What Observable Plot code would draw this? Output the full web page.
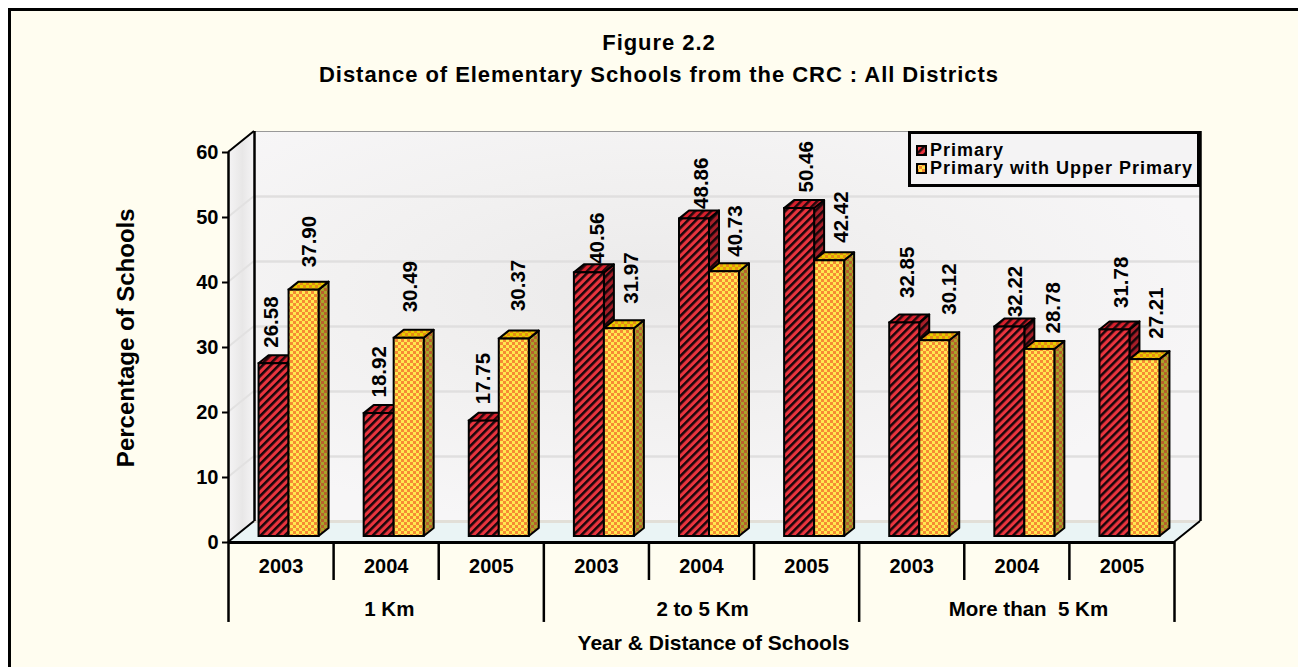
<!DOCTYPE html>
<html>
<head>
<meta charset="utf-8">
<script src="https://cdn.jsdelivr.net/npm/d3@7"></script>
<script src="https://cdn.jsdelivr.net/npm/@observablehq/plot@0.6"></script>
<style>
html,body{margin:0;padding:0;background:#fff;width:1298px;height:667px;overflow:hidden;font-family:"Liberation Sans",Arial,sans-serif;}
#frame{position:absolute;left:8px;top:8px;right:0;bottom:0;border-left:3px solid #000;border-top:3px solid #000;background:#fffdf0;}
#title{position:absolute;left:0;top:27px;width:1318px;text-align:center;font-weight:bold;font-size:22px;line-height:32px;letter-spacing:.95px;color:#000;margin:0;}
#chart{position:absolute;left:0;top:0;}
#chart svg{background:transparent;overflow:visible;white-space:pre;}
#legend{position:absolute;left:908px;top:131px;width:286px;border:3px solid #000;background:#f4f3f4;font-weight:bold;font-size:18px;line-height:18px;letter-spacing:1px;color:#000;padding-top:7px;box-sizing:content-box;height:43px;}
#legend div{display:flex;align-items:center;padding-left:5px;}
#legend svg{margin-right:3px;}
</style>
</head>
<body>
<svg width="0" height="0" style="position:absolute">
<defs id="defs"></defs>
</svg>
<div id="frame"></div>
<h1 id="title">Figure 2.2<br>Distance of Elementary Schools from the CRC : All Districts</h1>
<div id="chart"></div>
<div id="legend"></div>
<script>
const distances = ["1 Km", "2 to 5 Km", "More than  5 Km"];
const years = ["2003", "2004", "2005"];
const primary = [26.58, 18.92, 17.75, 40.56, 48.86, 50.46, 32.85, 32.22, 31.78];
const upperPrimary = [37.90, 30.49, 30.37, 31.97, 40.73, 42.42, 30.12, 28.78, 27.21];
const seriesNames = ["Primary", "Primary with Upper Primary"];
const yTicks = [0, 10, 20, 30, 40, 50, 60];

// hand placement of the value labels in the original (pixels from the group centre / gap above the bar)
const primaryLabelShift = [-10, -7, -8, 1, 0, 0, -4, -1, -1];
const upperLabelShift = [28, 24, 27, 35, 34, 35, 38, 37, 34];
const primaryLabelGap = [16, 16, 17, 9, 10, 16, 25, 10, 22];
const upperLabelGap = [23, 26, 28, 25, 15, 18, 26, 16, 21];
const groupLabelAt = [1.53, 4.51, 7.61];

// pixel depth of the 3-D box and of the bars within it
const wallDx = 26, wallDy = -21, barDx = 8, barDy = -6, faceDx = 10, faceDy = -8;
const barW = 0.2854, pxPerX = 105.1, pxPerY = 6.5;

const defs = d3.select("#defs");
function stripes(id, a, b) {
  const p = defs.append("pattern").attr("id", id).attr("patternUnits", "userSpaceOnUse")
    .attr("width", 5.66).attr("height", 5.66).attr("patternTransform", "rotate(45)");
  p.append("rect").attr("width", 5.66).attr("height", 5.66).attr("fill", a);
  p.append("rect").attr("width", 2.5).attr("height", 5.66).attr("fill", b);
}
function checks(id, a, b) {
  const p = defs.append("pattern").attr("id", id).attr("patternUnits", "userSpaceOnUse")
    .attr("width", 6).attr("height", 6);
  p.append("rect").attr("width", 6).attr("height", 6).attr("fill", a);
  p.append("rect").attr("width", 3).attr("height", 3).attr("fill", b);
  p.append("rect").attr("x", 3).attr("y", 3).attr("width", 3).attr("height", 3).attr("fill", b);
}
stripes("redFront", "#ea343e", "#16060a");
stripes("redSide", "#a81e28", "#12060a");
stripes("redTop", "#d8202c", "#20080c");
checks("yelFront", "#ffe850", "#f68a34");
checks("yelSide", "#a8a52a", "#b8602c");
checks("yelTop", "#e6cc00", "#e88c14");
const rg = defs.append("radialGradient").attr("id", "wall").attr("cx", "0.42").attr("cy", "0.42").attr("r", "0.6");
rg.append("stop").attr("offset", "0").attr("stop-color", "#ebeaea");
rg.append("stop").attr("offset", "0.55").attr("stop-color", "#f2f1f1");
rg.append("stop").attr("offset", "1").attr("stop-color", "#f7f6f7");
const lg = defs.append("linearGradient").attr("id", "sideWall");
lg.append("stop").attr("offset", "0").attr("stop-color", "#f5f4f5");
lg.append("stop").attr("offset", "0.55").attr("stop-color", "#e8e7e7");
lg.append("stop").attr("offset", "1").attr("stop-color", "#f5f4f5");

const svgNS = "http://www.w3.org/2000/svg";
function polygon(points, attrs) {
  const el = document.createElementNS(svgNS, "path");
  el.setAttribute("d", "M" + points.map(p => p.join(",")).join("L") + "Z");
  for (const k in attrs) el.setAttribute(k, attrs[k]);
  return el;
}
function group(children) {
  const g = document.createElementNS(svgNS, "g");
  children.forEach(c => g.appendChild(c));
  return g;
}

const rows = [
  ...primary.map((v, i) => ({i, v, s: 0, shift: primaryLabelShift[i], gap: primaryLabelGap[i]})),
  ...upperPrimary.map((v, i) => ({i, v, s: 1, shift: upperLabelShift[i], gap: upperLabelGap[i]}))
];
const rowsOf = s => rows.filter(d => d.s === s);
const left = d => d.i + 0.5 - (d.s === 0 ? barW : 0);
const right = d => left(d) + barW;

function faces(s, sideFill, topFill) {
  return (index, {x, y}) => group(rowsOf(s).flatMap(d => {
    const x0 = x(left(d)) + barDx, x1 = x(right(d)) + barDx;
    const y0 = y(0) + barDy, yv = y(d.v) + barDy;
    const a = {stroke: "#000", "stroke-width": 2, "stroke-linejoin": "round"};
    return [
      polygon([[x1, yv], [x1 + faceDx, yv + faceDy], [x1 + faceDx, y0 + faceDy], [x1, y0]], {...a, fill: sideFill}),
      polygon([[x0, yv], [x1, yv], [x1 + faceDx, yv + faceDy], [x0 + faceDx, yv + faceDy]], {...a, fill: topFill})
    ];
  }));
}

const box = (index, {x, y}) => group([
  polygon([[x(0), y(0)], [x(0) + wallDx, y(0) + wallDy], [x(0) + wallDx, y(60) + wallDy], [x(0), y(60)]], {fill: "url(#sideWall)"}),
  polygon([[x(0), y(0)], [x(9), y(0)], [x(9) + wallDx, y(0) + wallDy], [x(0) + wallDx, y(0) + wallDy]], {fill: "#eaf4f5"})
]);
const sideGrid = (index, {x, y}) => group(yTicks.slice(1, -1).map(v =>
  polygon([[x(0), y(v)], [x(0) + wallDx, y(v) + wallDy]], {stroke: "#e2e1e1", "stroke-width": 2, fill: "none"})
));
const edges = (index, {x, y}) => group([
  polygon([[x(0), y(60)], [x(0) + wallDx, y(60) + wallDy]], {stroke: "#000", "stroke-width": 2, fill: "none"}),
  polygon([[x(0), y(0)], [x(0) + wallDx, y(0) + wallDy]], {stroke: "#000", "stroke-width": 2, fill: "none"}),
  polygon([[x(9), y(0)], [x(9) + wallDx, y(0) + wallDy]], {stroke: "#000", "stroke-width": 2, fill: "none"})
]);

const labelFont = {fontFamily: "Liberation Sans", fontWeight: "bold", fill: "#000"};
const yearRows = d3.range(9).map(i => ({i, year: years[i % 3]}));
const distRows = distances.map((name, i) => ({i, name}));
const valueLabels = data => Plot.text(data, {
  x: d => d.i + 0.5 + d.shift / pxPerX,
  y: d => d.v + (d.gap - barDy) / pxPerY,
  text: d => d3.format(".2f")(d.v),
  rotate: -90, textAnchor: "start", fontSize: 20.5, ...labelFont
});

const chart = Plot.plot({
  width: 1298,
  height: 667,
  marginLeft: 228,
  marginRight: 124,
  marginTop: 152,
  marginBottom: 125,
  x: {type: "linear", domain: [0, 9], axis: null},
  y: {domain: [0, 60], axis: null},
  style: {background: "transparent"},
  marks: [
    Plot.rect([{}], {x1: () => 0, x2: () => 9, y1: () => 0, y2: () => 60, dx: wallDx, dy: wallDy, fill: "url(#wall)"}),
    box,
    Plot.ruleY(yTicks.slice(1, -1), {x1: 0, x2: 9, dx: wallDx, dy: wallDy, stroke: "#e0dfdf", strokeWidth: 2.5}),
    sideGrid,
    Plot.ruleY([0], {x1: 0, x2: 9, dx: wallDx, dy: wallDy, stroke: "#e2dfd8", strokeWidth: 3}),
    Plot.ruleY([60], {x1: 0, x2: 9, dx: wallDx, dy: wallDy, stroke: "#999", strokeWidth: 1}),
    Plot.ruleX([0, 9], {y1: 0, y2: 60, dx: wallDx, dy: wallDy, stroke: "#000", strokeWidth: 2.5}),
    edges,
    faces(0, "url(#redSide)", "url(#redTop)"),
    Plot.rect(rowsOf(0), {x1: left, x2: right, y1: () => 0, y2: "v", dx: barDx, dy: barDy, fill: "url(#redFront)", stroke: "#000", strokeWidth: 2}),
    faces(1, "url(#yelSide)", "url(#yelTop)"),
    Plot.rect(rowsOf(1), {x1: left, x2: right, y1: () => 0, y2: "v", dx: barDx, dy: barDy, fill: "url(#yelFront)", stroke: "#000", strokeWidth: 2}),
    valueLabels(rowsOf(0)),
    valueLabels(rowsOf(1)),
    Plot.ruleY([0], {x1: 0, x2: 9, stroke: "#000", strokeWidth: 3}),
    Plot.ruleX([0], {y1: 0, y2: 60, stroke: "#000", strokeWidth: 2.5}),
    Plot.axisY({ticks: yTicks, label: null, tickSize: 6, tickPadding: 4, fontSize: 20, fontWeight: "bold", fontFamily: "Liberation Sans", stroke: "#000", strokeWidth: 2, fill: "#000"}),
    Plot.ruleX([1, 2, 4, 5, 7, 8], {y1: 0, y2: -5.85, stroke: "#000", strokeWidth: 2.5}),
    Plot.ruleX([0, 3, 6, 9], {y1: 0, y2: -12.3, stroke: "#000", strokeWidth: 2.5}),
    Plot.text(yearRows, {x: d => d.i + 0.5, y: () => 0, text: "year", dy: 24, fontSize: 20, ...labelFont, letterSpacing: "0.8px"}),
    Plot.text(distRows, {x: d => groupLabelAt[d.i], y: () => 0, text: "name", dy: 67, fontSize: 20.5, ...labelFont, letterSpacing: "1.4px"}),
    Plot.text(["Year & Distance of Schools"], {x: () => 4.5, y: () => 0, text: d => d, dx: 12, dy: 101, fontSize: 21, ...labelFont, letterSpacing: "0.7px"}),
    Plot.text(["Percentage of Schools"], {x: () => 0, y: () => 31.5, text: d => d, rotate: -90, dx: -102, fontSize: 24, ...labelFont, letterSpacing: "0.5px"})
  ]
});
document.getElementById("chart").appendChild(chart);

const legend = d3.select("#legend");
seriesNames.forEach((name, k) => {
  const row = legend.append("div");
  const sw = row.append("svg").attr("width", 11).attr("height", 11);
  sw.append("rect").attr("x", 1).attr("y", 1).attr("width", 9).attr("height", 9)
    .attr("fill", k === 0 ? "url(#redFront)" : "url(#yelFront)").attr("stroke", "#000").attr("stroke-width", 2);
  row.append("span").text(name);
});
</script>
</body>
</html>
